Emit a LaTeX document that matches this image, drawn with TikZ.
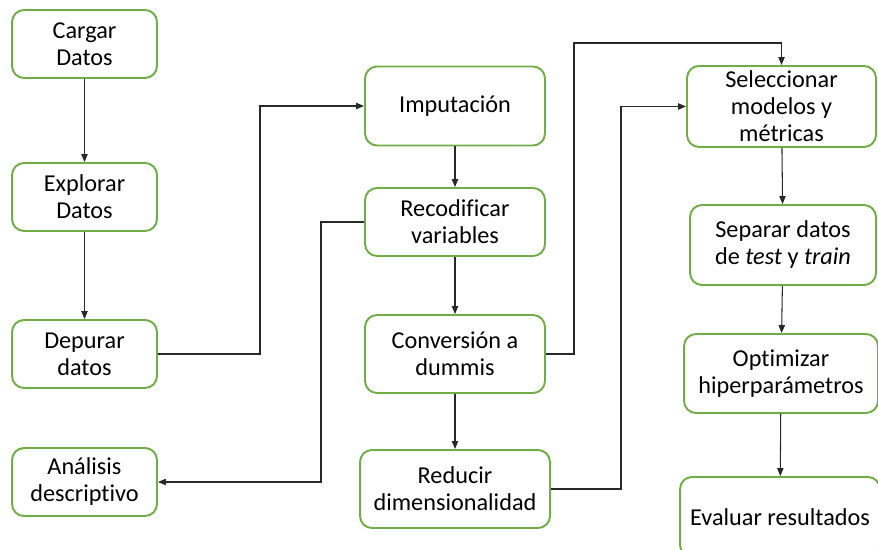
\documentclass[tikz,border=0pt]{standalone}
\usepackage{fontspec}
\setmainfont[Ligatures=NoCommon]{Carlito}
\usetikzlibrary{arrows.meta,positioning}
\definecolor{pasoverde}{RGB}{112,173,71}
\definecolor{lineagris}{RGB}{40,40,40}

\begin{document}
\begin{tikzpicture}[
      x=0.02cm, y=-0.02cm,
      paso/.style={
         rectangle,
         rounded corners=0.24cm,
         draw=pasoverde,
         line width=1.1pt,
         align=center,
         inner sep=2pt,
         font=\fontsize{13.8}{15.4}\selectfont},
      flecha/.style={-{Triangle[length=4.5pt,width=3.6pt]},draw=lineagris,line width=0.6pt}
      ]
      \useasboundingbox (0,0) rectangle (878,550);
      % primera columna
      \node[paso,minimum width=2.9cm,minimum height=1.36cm] (cargar) at (84.5,44) {Cargar\\Datos};
      \node[paso,minimum width=2.9cm,minimum height=1.36cm] (explorar) at (84.5,197) {Explorar\\Datos};
      \node[paso,minimum width=2.9cm,minimum height=1.36cm] (depurar) at (84.5,354) {Depurar\\datos};
      \node[paso,minimum width=2.9cm,minimum height=1.36cm] (analisis) at (84.5,482) {Análisis\\descriptivo};
      % segunda columna
      \node[paso,minimum width=3.6cm,minimum height=1.58cm] (imput) at (455,106) {Imputación};
      \node[paso,minimum width=3.6cm,minimum height=1.36cm] (recod) at (455,222) {Recodificar\\variables};
      \node[paso,minimum width=3.6cm,minimum height=1.56cm] (conv) at (455,354) {Conversión a\\dummis};
      \node[paso,minimum width=3.8cm,minimum height=1.56cm] (reducir) at (455,489) {Reducir\\dimensionalidad};
      % tercera columna
      \node[paso,minimum width=3.78cm,minimum height=1.62cm] (selec) at (781.5,106.5) {Seleccionar\\modelos y\\métricas};
      \node[paso,minimum width=3.72cm,minimum height=1.6cm] (separar) at (783,245) {Separar datos\\de \textit{test} y \textit{train}};
      \node[paso,minimum width=3.88cm,minimum height=1.58cm] (optim) at (781,373.5) {Optimizar\\hiperparámetros};
      \node[paso,minimum width=4.0cm,minimum height=1.6cm] (evaluar) at (780,517) {Evaluar resultados};
      % puntos de quiebre
      \coordinate (q1) at (260,0);
      \coordinate (q2) at (321,0);
      \coordinate (q3) at (574,43);
      \coordinate (q4) at (621,0);
    \foreach \i/\j in {% nodo inicial/nodo final
      cargar/explorar,
      explorar/depurar,
      imput/recod,
      recod/conv,
      conv/reducir,
      selec/separar,
      separar/optim,
      optim/evaluar}
       \draw [flecha] (\i) -- (\j);
      % conectores con quiebre
      \draw [flecha] (depurar.east) -- (depurar.east -| q1) |- (imput.west);
      \draw [flecha] (recod.west) -- (recod.west -| q2) |- (analisis.east);
      \draw [flecha] (conv.east) -| (q3) -| (selec.north);
      \draw [flecha] (reducir.east) -- (reducir.east -| q4) |- (selec.west);
\end{tikzpicture}
\end{document}
